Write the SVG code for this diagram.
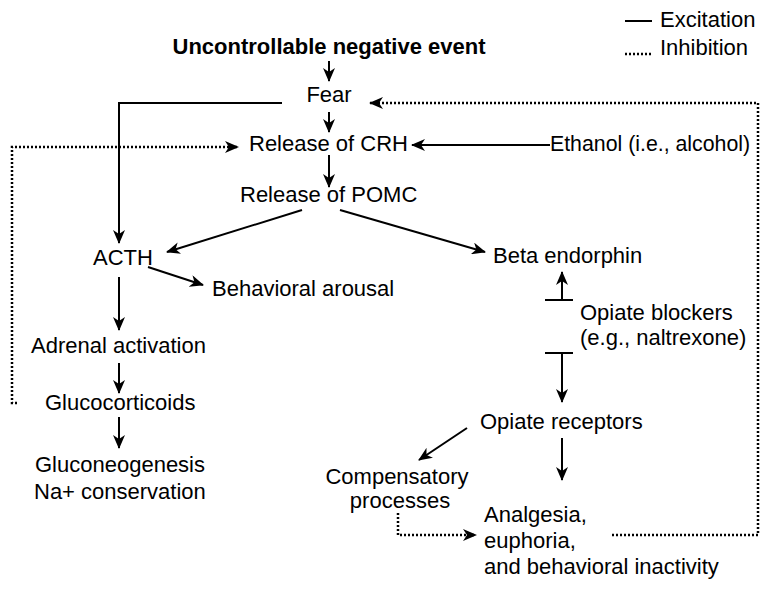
<svg xmlns="http://www.w3.org/2000/svg" width="770" height="590" viewBox="0 0 770 590">
<style>
text{font-family:"Liberation Sans",Arial,sans-serif;font-size:22px;fill:#000}
.b{font-weight:bold;font-size:22px}
.s{fill:none;stroke:#000;stroke-width:2}
.d{fill:none;stroke:#000;stroke-width:2.5;stroke-dasharray:2 2}
</style>
<defs>
<marker id="a" markerUnits="userSpaceOnUse" markerWidth="14" markerHeight="12" viewBox="0 0 14 12" refX="13" refY="6" orient="auto">
<path d="M0,0 L14,6 L0,12 L4,6 Z" fill="#000"/>
</marker>
</defs>
<rect width="770" height="590" fill="#fff"/>
<g id="legend">
<line class="s" x1="625" y1="21" x2="652" y2="21"/>
<text x="660" y="27">Excitation</text>
<line class="d" x1="625" y1="54" x2="652" y2="54"/>
<text x="660" y="55">Inhibition</text>
</g>
<g id="connectors">
<path class="s" d="M329,61 V81" marker-end="url(#a)"/>
<path class="s" d="M329,112 V132" marker-end="url(#a)"/>
<path class="s" d="M329,155 V187" marker-end="url(#a)"/>
<path class="s" d="M282,103 H119 V243" marker-end="url(#a)"/>
<path class="s" d="M302,210 L167,252" marker-end="url(#a)"/>
<path class="s" d="M340,210 L485,252" marker-end="url(#a)"/>
<path class="s" d="M550,145 H412" marker-end="url(#a)"/>
<path class="s" d="M148,267 L203,285" marker-end="url(#a)"/>
<path class="s" d="M119,277 V330" marker-end="url(#a)"/>
<path class="s" d="M119,363 V393" marker-end="url(#a)"/>
<path class="s" d="M119,417 V448" marker-end="url(#a)"/>
<path class="s" d="M545,300 H573"/>
<path class="s" d="M562,300 V272" marker-end="url(#a)"/>
<path class="s" d="M545,353 H573"/>
<path class="s" d="M562,353 V402" marker-end="url(#a)"/>
<path class="s" d="M467,428 L419,460" marker-end="url(#a)"/>
<path class="s" d="M562,438 V480" marker-end="url(#a)"/>
<path class="d" d="M398,513 V535 H476" marker-end="url(#a)"/>
<path class="d" d="M612,535 H758 V103 H370" marker-end="url(#a)"/>
<path class="d" d="M17,403 H12 V147 H238" marker-end="url(#a)"/>
</g>
<g id="event"><text class="b" x="329" y="54" text-anchor="middle">Uncontrollable negative event</text></g>
<g id="fear"><text x="329" y="102" text-anchor="middle">Fear</text></g>
<g id="crh"><text x="249" y="151">Release of CRH</text></g>
<g id="ethanol"><text x="550" y="151" style="font-size:21.3px">Ethanol (i.e., alcohol)</text></g>
<g id="pomc"><text x="240" y="202">Release of POMC</text></g>
<g id="acth"><text x="93" y="265">ACTH</text></g>
<g id="beta"><text x="493" y="263">Beta endorphin</text></g>
<g id="arousal"><text x="212" y="296">Behavioral arousal</text></g>
<g id="blockers"><text x="580" y="320">Opiate blockers</text><text x="580" y="345">(e.g., naltrexone)</text></g>
<g id="adrenal"><text x="31" y="353">Adrenal activation</text></g>
<g id="gluco"><text x="45" y="410">Glucocorticoids</text></g>
<g id="receptors"><text x="480" y="429">Opiate receptors</text></g>
<g id="gluconeo"><text x="35" y="472">Gluconeogenesis</text><text x="34" y="499">Na+ conservation</text></g>
<g id="compensatory"><text x="397" y="484" text-anchor="middle">Compensatory</text><text x="400" y="508" text-anchor="middle">processes</text></g>
<g id="analgesia"><text x="484" y="522">Analgesia,</text><text x="484" y="548">euphoria,</text><text x="484" y="574">and behavioral inactivity</text></g>
</svg>
